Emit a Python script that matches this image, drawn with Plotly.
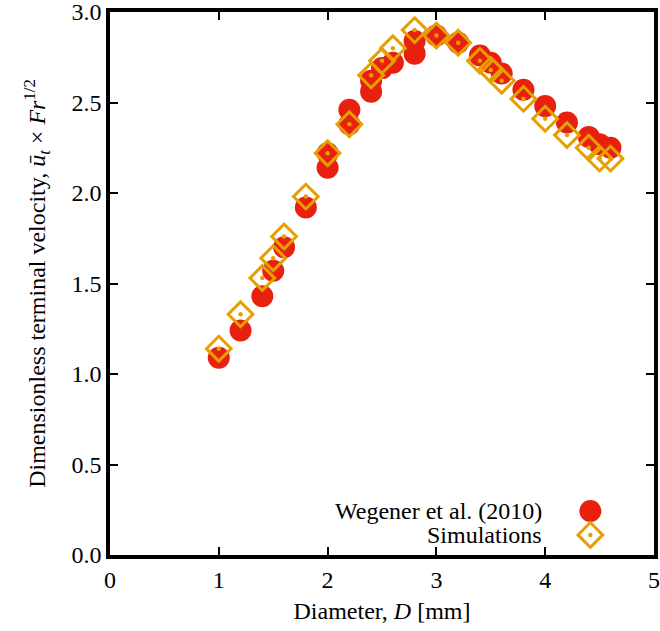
import plotly.graph_objects as go

# Wegener et al. (2010) measurements: diameter [mm] and dimensionless terminal velocity
D_exp = [1.0, 1.2, 1.4, 1.5, 1.6, 1.8, 2.0, 2.0, 2.2, 2.2, 2.4, 2.4, 2.5, 2.6,
         2.8, 2.8, 3.0, 3.2, 3.4, 3.5, 3.6, 3.8, 4.0, 4.2, 4.4, 4.5, 4.6]
u_exp = [1.09, 1.24, 1.43, 1.57, 1.70, 1.92, 2.22, 2.14, 2.46, 2.38, 2.56, 2.62, 2.69, 2.72,
         2.77, 2.84, 2.87, 2.83, 2.76, 2.72, 2.66, 2.57, 2.48, 2.39, 2.31, 2.27, 2.25]

# Simulation results
D_sim = [1.0, 1.2, 1.4, 1.5, 1.6, 1.8, 2.0, 2.2, 2.4, 2.5, 2.6, 2.8,
         3.0, 3.2, 3.4, 3.5, 3.6, 3.8, 4.0, 4.2, 4.4, 4.5, 4.6]
u_sim = [1.14, 1.33, 1.53, 1.64, 1.76, 1.98, 2.22, 2.38, 2.65, 2.73, 2.80, 2.90,
         2.87, 2.83, 2.73, 2.68, 2.62, 2.52, 2.41, 2.32, 2.25, 2.19, 2.19]

x_ticks = [0, 1, 2, 3, 4, 5]
y_ticks = [0.0, 0.5, 1.0, 1.5, 2.0, 2.5, 3.0]

series_names = ["Wegener et al. (2010)", "Simulations"]

RED = "#e8200f"
ORANGE = "#e69f00"
FONT = "Liberation Serif, Times New Roman, serif"
FS = 24

circle_marker = dict(symbol="circle", size=22, color=RED, line=dict(width=0))
diamond_marker = dict(symbol="diamond-open", size=19, color=ORANGE,
                      line=dict(width=3, color=ORANGE))
dot_marker = dict(symbol="circle", size=4.5, color=ORANGE, line=dict(width=0))

fig = go.Figure()
fig.add_trace(go.Scatter(x=D_exp, y=u_exp, mode="markers", name=series_names[0],
                         marker=circle_marker, showlegend=False))
fig.add_trace(go.Scatter(x=D_sim, y=u_sim, mode="markers", name=series_names[1],
                         marker=diamond_marker, showlegend=False))
# centre dot of each open diamond
fig.add_trace(go.Scatter(x=D_sim, y=u_sim, mode="markers", marker=dot_marker,
                         showlegend=False, hoverinfo="skip"))

# Key symbols placed on an overlay axis spanning the plot area (0..1)
key_x = 0.883
key_y = [0.081, 0.037]
fig.add_trace(go.Scatter(x=[key_x], y=[key_y[0]], mode="markers", marker=circle_marker,
                         xaxis="x2", yaxis="y2", showlegend=False, hoverinfo="skip"))
fig.add_trace(go.Scatter(x=[key_x], y=[key_y[1]], mode="markers", marker=diamond_marker,
                         xaxis="x2", yaxis="y2", showlegend=False, hoverinfo="skip"))
fig.add_trace(go.Scatter(x=[key_x], y=[key_y[1]], mode="markers", marker=dot_marker,
                         xaxis="x2", yaxis="y2", showlegend=False, hoverinfo="skip"))

for name, ky in zip(series_names, key_y):
    fig.add_annotation(x=0.797, y=ky, xref="paper", yref="paper", text=name,
                       showarrow=False, xanchor="right", yanchor="middle",
                       font=dict(family=FONT, size=FS, color="black"))

axis_common = dict(
    showline=True, linecolor="black", linewidth=3.5, mirror="ticks",
    ticks="inside", ticklen=8, tickwidth=2, tickcolor="black",
    showgrid=False, zeroline=False, automargin=False, ticklabeloverflow="allow",
    tickfont=dict(family=FONT, size=FS, color="black"),
)

fig.update_layout(
    width=660, height=631,
    margin=dict(l=110, r=6, t=12, b=76),
    paper_bgcolor="white", plot_bgcolor="white",
    font=dict(family=FONT, size=FS, color="black"),
    xaxis=dict(range=[0, 5], tickvals=x_ticks, ticktext=[str(v) for v in x_ticks],
               title=dict(text="Diameter, <i>D</i> [mm]", standoff=12,
                          font=dict(family=FONT, size=FS)),
               **axis_common),
    yaxis=dict(range=[0, 3], tickvals=y_ticks, ticktext=[f"{v:.1f}" for v in y_ticks],
               title=dict(text="Dimensionless terminal velocity, <i>ū<sub>t</sub></i> × <i>Fr</i><sup>1/2</sup>",
                          standoff=20, font=dict(family=FONT, size=FS)),
               **axis_common),
    xaxis2=dict(range=[0, 1], overlaying="x", visible=False),
    yaxis2=dict(range=[0, 1], overlaying="y", visible=False),
)

fig.write_html("out.html")
